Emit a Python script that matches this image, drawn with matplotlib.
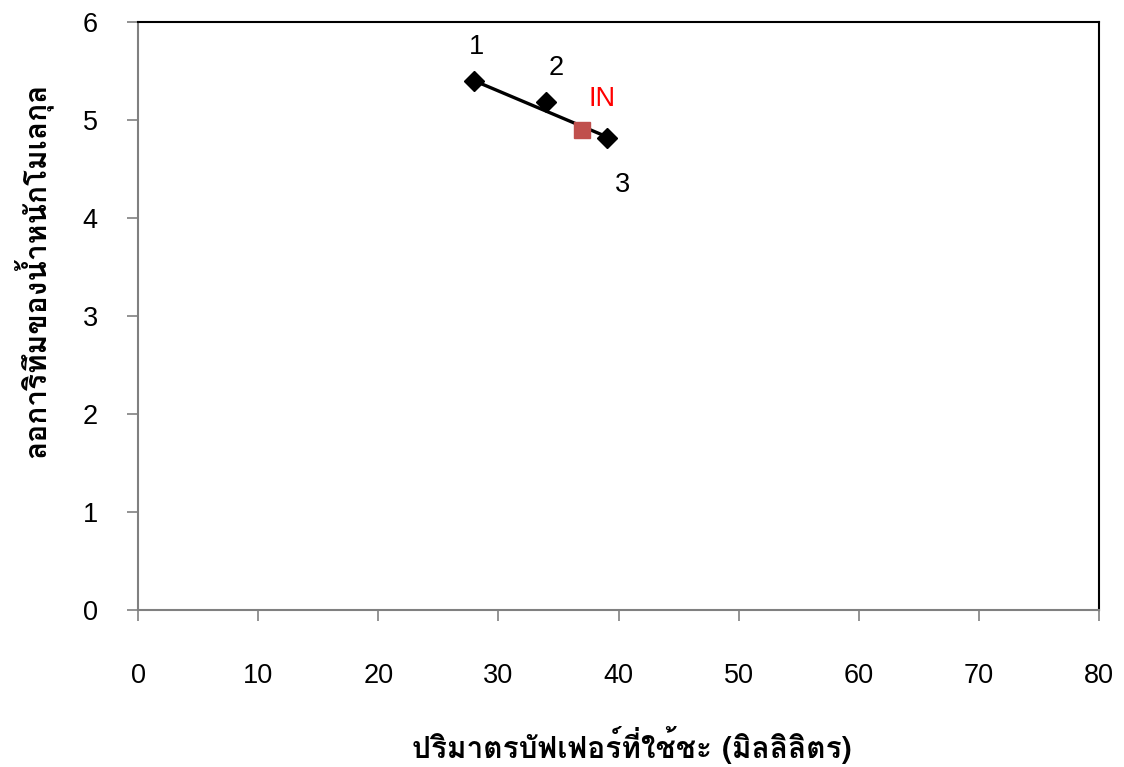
import matplotlib
matplotlib.use('Agg')
import matplotlib.pyplot as plt
from matplotlib import font_manager
from matplotlib.ft2font import FT2Font

# data
std_x = [28, 34, 39]
std_y = [5.40, 5.18, 4.82]
std_labels = ['1', '2', '3']
unk_x = [37]
unk_y = [4.90]
unk_label = 'IN'
fit_x = [28, 39]
fit_y = [5.40, 4.83]

xticks = [0, 10, 20, 30, 40, 50, 60, 70, 80]
yticks = [0, 1, 2, 3, 4, 5, 6]
xlabel = 'ปริมาตรบัฟเฟอร์ที่ใช้ชะ (มิลลิลิตร)'
ylabel = 'ลอการิทึมของน้ำหนักโมเลกุล'

# find an installed font that has thai glyphs
thai_font = None
for f in font_manager.fontManager.ttflist:
  try:
    if 0x0E01 in FT2Font(f.fname).get_charmap():
      thai_font = f.name
      break
  except Exception:
    pass
families = ['Liberation Sans', 'DejaVu Sans']
if thai_font:
  families = [thai_font] + families

plt.rcParams['font.family'] = ['Liberation Sans', 'DejaVu Sans']

fig = plt.figure(figsize=(11.24, 7.67), dpi=100)
ax = fig.add_axes([0.1228, 0.2047, 0.855, 0.7666])

ax.plot(fit_x, fit_y, color='black', lw=2.4, zorder=2)
ax.plot(std_x, std_y, 'D', color='black', ms=10, zorder=3)
ax.plot(unk_x, unk_y, 's', color='#C0504D', ms=11, zorder=3)

offs = [(1.5, 24), (7, 25), (11.5, -34)]
for x, y, t, o in zip(std_x, std_y, std_labels, offs):
  ax.annotate(t, (x, y), xytext=o, textcoords='offset points',
              ha='center', va='center', fontsize=19.5)
ax.annotate(unk_label, (unk_x[0], unk_y[0]), xytext=(14, 22), textcoords='offset points',
            ha='center', va='center', fontsize=19.5, color='red')

ax.set_xlim(0, 80)
ax.set_ylim(0, 6)
ax.set_xticks(xticks)
ax.set_yticks(yticks)
ax.tick_params(axis='both', direction='out', length=8, width=1.2, color='#808080', labelsize=19.5)
ax.tick_params(axis='x', pad=30)
ax.tick_params(axis='y', pad=21)

for s in ['left', 'bottom']:
  ax.spines[s].set_color('#808080')
  ax.spines[s].set_linewidth(1.5)
for s in ['top', 'right']:
  ax.spines[s].set_color('black')
  ax.spines[s].set_linewidth(1.5)

ax.set_xlabel(xlabel, family=families, fontsize=21.5, fontweight='bold', labelpad=27)
ax.set_ylabel(ylabel, family=families, fontsize=21.5, fontweight='bold', labelpad=21)
ax.xaxis.label.set_x(0.514)
ax.yaxis.label.set_y(0.577)

fig.savefig('out.png', dpi=100)
